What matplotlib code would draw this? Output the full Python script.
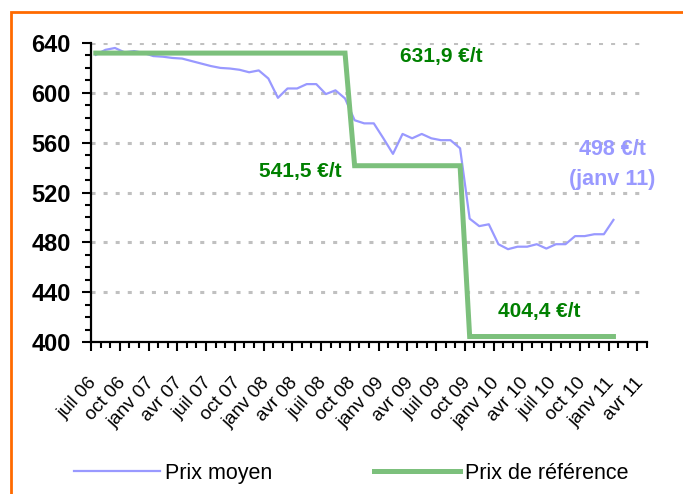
import matplotlib
matplotlib.use('Agg')
import matplotlib.pyplot as plt
import matplotlib.transforms as mtransforms
from matplotlib.patches import Rectangle
from matplotlib.ticker import MultipleLocator
import numpy as np

# ---------------- data ----------------
month_labels = ['juil 06', 'oct 06', 'janv 07', 'avr 07', 'juil 07', 'oct 07',
                'janv 08', 'avr 08', 'juil 08', 'oct 08', 'janv 09', 'avr 09',
                'juil 09', 'oct 09', 'janv 10', 'avr 10', 'juil 10', 'oct 10',
                'janv 11', 'avr 11']
label_step = 3          # one label every 3 months
n_months_axis = 58      # juil 06 .. avr 11

prix_moyen = [630.5, 634.5, 636.0, 632.5, 633.5, 632.0, 629.5, 629.0, 628.0, 627.5,
              625.5, 623.5, 621.5, 620.0, 619.5, 618.5, 616.5, 618.0, 611.5, 596.0,
              603.5, 603.5, 607.0, 607.0, 599.0, 602.0, 595.5, 578.0, 575.5, 575.5,
              563.5, 551.0, 567.0, 563.5, 567.0, 563.5, 562.0, 562.0, 555.5, 499.0,
              493.0, 494.5, 478.5, 474.5, 476.5, 476.5, 478.5, 475.0, 478.5, 478.5,
              485.0, 485.0, 486.5, 486.5, 498.0]

prix_reference = [631.9, 631.9, 631.9, 631.9, 631.9, 631.9, 631.9, 631.9, 631.9, 631.9,
                  631.9, 631.9, 631.9, 631.9, 631.9, 631.9, 631.9, 631.9, 631.9, 631.9,
                  631.9, 631.9, 631.9, 631.9, 631.9, 631.9, 631.9, 541.5, 541.5, 541.5,
                  541.5, 541.5, 541.5, 541.5, 541.5, 541.5, 541.5, 541.5, 541.5, 404.4,
                  404.4, 404.4, 404.4, 404.4, 404.4, 404.4, 404.4, 404.4, 404.4, 404.4,
                  404.4, 404.4, 404.4, 404.4, 404.4]

# ---------------- style ----------------
plt.rcParams['font.family'] = ['Liberation Sans', 'DejaVu Sans']
plt.rcParams['lines.scale_dashes'] = False

W, H = 683, 494
fig = plt.figure(figsize=(W / 100, H / 100), dpi=100)
fig.patch.set_facecolor('white')

L, R, T, B = 91, 647, 43, 342
ax = fig.add_axes([L / W, 1 - B / H, (R - L) / W, (B - T) / H])

x = np.arange(len(prix_moyen)) + 0.5
ax.plot(x, prix_moyen, color='#9999FF', lw=1.6, zorder=3, label='Prix moyen')
ax.plot(x, prix_reference, color='#7CC07C', lw=3.6, zorder=4,
        solid_capstyle='projecting', solid_joinstyle='miter',
        label='Prix de référence')

ax.set_xlim(0, n_months_axis)
ax.set_ylim(400, 640)

# grid
ax.set_axisbelow(True)
ax.yaxis.grid(True, which='major', color='#C0C0C0', lw=2.2,
              linestyle=(0, (2.9, 5.8)))
ax.xaxis.grid(False)

for s in ['top', 'right']:
    ax.spines[s].set_visible(False)
for s in ['left', 'bottom']:
    ax.spines[s].set_linewidth(1.6)
    ax.spines[s].set_color('black')

ax.yaxis.set_major_locator(MultipleLocator(40))
ax.yaxis.set_minor_locator(MultipleLocator(10))
ax.tick_params(axis='y', which='major', length=6.5, width=1.5, direction='out',
               labelsize=17, pad=8)
ax.tick_params(axis='y', which='minor', length=4, width=1.5, direction='out')
for lbl in ax.get_yticklabels():
    lbl.set_fontweight('bold')

ax.xaxis.set_major_locator(MultipleLocator(3))
ax.xaxis.set_minor_locator(MultipleLocator(1))
ax.tick_params(axis='x', which='major', length=6.5, width=1.5, direction='out',
               labelbottom=False)
ax.tick_params(axis='x', which='minor', length=4, width=1.5, direction='out')

trans = mtransforms.blended_transform_factory(ax.transData, ax.transAxes) + \
    mtransforms.ScaledTranslation(0, -0.38, fig.dpi_scale_trans)
for i, lab in enumerate(month_labels):
    ax.text(i * label_step + 0.3, 0, lab, transform=trans, rotation=48,
            rotation_mode='anchor', ha='right', va='center', fontsize=13.5)

# annotations
green = '#008000'
blue = '#9999FF'
ax.text(36.56, 628.8, '631,9 €/t', color=green, fontsize=15, fontweight='bold',
        ha='center', va='center')
ax.text(21.8, 536.7, '541,5 €/t', color=green, fontsize=15, fontweight='bold',
        ha='center', va='center')
ax.text(46.8, 424.7, '404,4 €/t', color=green, fontsize=15, fontweight='bold',
        ha='center', va='center')
ax.text(54.4, 554.9, '498 €/t', color=blue, fontsize=15.5, fontweight='bold',
        ha='center', va='center')
ax.text(54.4, 530.8, '(janv 11)', color=blue, fontsize=15.5, fontweight='bold',
        ha='center', va='center')

# legend
handles, labels = ax.get_legend_handles_labels()
fig.legend(handles, labels, loc='center left', bbox_to_anchor=(74 / W, 1 - 473 / H),
           ncol=2, frameon=False, fontsize=15.5, handlelength=4.0,
           handletextpad=0.25, columnspacing=4.7, borderpad=0, borderaxespad=0)

# orange frame
fig.patches.append(Rectangle((10.5 / W, -0.2), 2.0, 1 - 12 / H + 0.2,
                             transform=fig.transFigure, fill=False,
                             edgecolor='#FF6A00', lw=2.0, zorder=10))

fig.savefig('out.png', dpi=100)
